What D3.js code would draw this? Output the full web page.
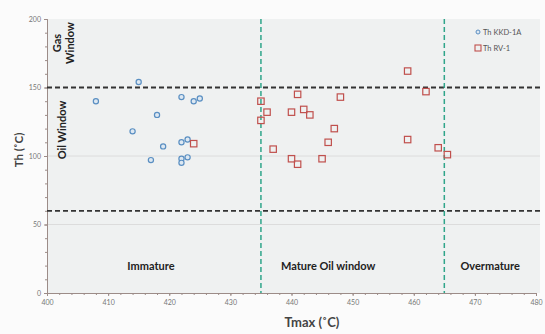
<!DOCTYPE html>
<html><head><meta charset="utf-8">
<script src="https://cdn.jsdelivr.net/npm/d3@7"></script>
<style>
html,body{margin:0;padding:0;background:#fbfbfb;}
svg{display:block;font-family:Lato, "Open Sans", sans-serif;}
</style></head><body>
<svg id="c" width="545" height="334"></svg>
<script>
// Data
const kkdTmax = [415, 408, 418, 414, 419, 417, 422, 424, 425, 422, 423, 422, 422, 423];
const kkdTh   = [154, 140, 130, 118, 107, 97, 143, 140, 142, 110, 112, 98, 95, 99];
const rvTmax = [424, 435, 436, 435, 437, 441, 448, 440, 442, 443, 447, 446, 440, 441, 445, 459, 462, 459, 464, 465.5];
const rvTh   = [109, 140, 132, 126, 105, 145, 143, 132, 134, 130, 120, 110, 98, 94, 98, 162, 147, 112, 106, 101];
const xTicks = [400, 410, 420, 430, 440, 450, 460, 470, 480];
const yTicks = [0, 50, 100, 150, 200];
const thBounds = [150, 60];
const tmaxBounds = [435, 465];
const zoneLabels = ["Immature", "Mature Oil window", "Overmature"];
const zoneCenters = [417, 446, 472.5];
const seriesNames = ["Th KKD-1A", "Th RV-1"];

const svg = d3.select("#c");
const L = 47, R = 536, T = 19, B = 293;
const x = d3.scaleLinear().domain([400, 480]).range([L, R]);
const y = d3.scaleLinear().domain([0, 200]).range([B, T]);

// plot background
svg.append("rect").attr("x", L).attr("y", T).attr("width", 540 - L).attr("height", B - T).attr("fill", "#eff1f1");

// faint gridlines
svg.append("g").selectAll("line").data([50, 100]).join("line")
  .attr("x1", L).attr("x2", 540).attr("y1", d => y(d)).attr("y2", d => y(d))
  .attr("stroke", "#dcdcdc").attr("stroke-width", 1);

// axes
const axisColor = "#9c8c88";
const xAxis = svg.append("g").attr("transform", `translate(0,${B})`)
  .call(d3.axisBottom(x).tickValues(xTicks).tickSize(3).tickFormat(d3.format("d")));
const xMinor = svg.append("g").attr("transform", `translate(0,${B})`)
  .call(d3.axisBottom(x).tickValues(d3.range(400, 481, 2)).tickSize(2).tickFormat(""));
const yAxis = svg.append("g").attr("transform", `translate(${L},0)`)
  .call(d3.axisLeft(y).tickValues(yTicks).tickSize(3).tickFormat(d3.format("d")));
const yMinor = svg.append("g").attr("transform", `translate(${L},0)`)
  .call(d3.axisLeft(y).tickValues(d3.range(0, 201, 10)).tickSize(2).tickFormat(""));
[xAxis, xMinor, yAxis, yMinor].forEach(g => {
  g.selectAll("path").attr("stroke", axisColor);
  g.selectAll("line").attr("stroke", axisColor);
  g.selectAll("text").attr("fill", "#777").attr("font-size", 7).attr("font-family", "Lato, sans-serif");
});
xAxis.selectAll("text").attr("dy", "0.9em");

// boundary lines
svg.append("g").selectAll("line").data(thBounds).join("line")
  .attr("x1", L).attr("x2", 540).attr("y1", d => y(d)).attr("y2", d => y(d))
  .attr("stroke", "#333").attr("stroke-width", 1.8).attr("stroke-dasharray", "5,3");
svg.append("g").selectAll("line").data(tmaxBounds).join("line")
  .attr("x1", d => x(d)).attr("x2", d => x(d)).attr("y1", T).attr("y2", B)
  .attr("stroke", "#2fa58a").attr("stroke-width", 1.5).attr("stroke-dasharray", "5,3");

// series
svg.append("g").selectAll("circle").data(kkdTmax).join("circle")
  .attr("cx", d => x(d)).attr("cy", (d, i) => y(kkdTh[i])).attr("r", 2.6)
  .attr("fill", "#dde8f2").attr("stroke", "#5a8fc2").attr("stroke-width", 1.2);
svg.append("g").selectAll("rect").data(rvTmax).join("rect")
  .attr("x", d => x(d) - 3.2).attr("y", (d, i) => y(rvTh[i]) - 3.2).attr("width", 6.4).attr("height", 6.4)
  .attr("fill", "none").attr("stroke", "#c0504d").attr("stroke-width", 1.2);

// zone labels
svg.append("g").selectAll("text").data(zoneLabels).join("text")
  .attr("x", (d, i) => x(zoneCenters[i])).attr("y", 270).attr("text-anchor", "middle")
  .attr("font-size", 11).attr("font-weight", "bold").attr("fill", "#222").text(d => d);

// window labels
const gw = svg.append("text").attr("transform", `translate(61,43) rotate(-90)`)
  .attr("text-anchor", "middle").attr("font-size", 11).attr("font-weight", "bold").attr("fill", "#222");
gw.append("tspan").attr("x", 0).attr("dy", 0).text("Gas");
gw.append("tspan").attr("x", 0).attr("dy", 13).text("Window");
svg.append("text").attr("transform", `translate(66,130) rotate(-90)`)
  .attr("text-anchor", "middle").attr("font-size", 11).attr("font-weight", "bold").attr("fill", "#222")
  .text("Oil Window");

// axis titles
svg.append("text").attr("transform", `translate(23,150) rotate(-90)`)
  .attr("text-anchor", "middle").attr("font-size", 11.5).attr("font-weight", "bold").attr("fill", "#444")
  .text("Th (˚C)");
svg.append("text").attr("x", 312).attr("y", 327).attr("text-anchor", "middle")
  .attr("font-size", 13).attr("font-weight", "bold").attr("fill", "#444").text("Tmax (˚C)");

// legend
const lg = svg.append("g").attr("transform", "translate(478,32)");
lg.append("circle").attr("cx", 0).attr("cy", 0).attr("r", 2).attr("fill", "#dde8f2").attr("stroke", "#5a8fc2").attr("stroke-width", 1);
lg.append("rect").attr("x", -3).attr("y", 13).attr("width", 6).attr("height", 6).attr("fill", "none").attr("stroke", "#c0504d").attr("stroke-width", 1.1);
lg.selectAll("text").data(seriesNames).join("text")
  .attr("x", 5).attr("y", (d, i) => i * 16 + 2.5).attr("font-size", 7.5).attr("fill", "#555").text(d => d);
</script>
</body></html>
